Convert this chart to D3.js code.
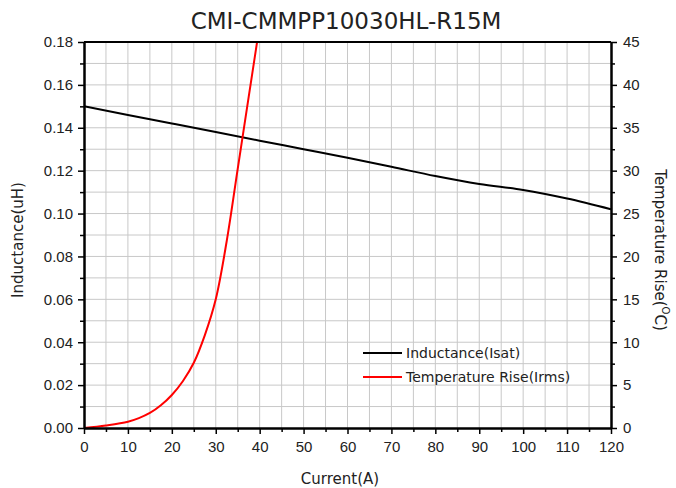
<html>
<head>
<script src="https://d3js.org/d3.v7.min.js"></script>
<style>
  body { margin: 0; background: #fff; }
  text { fill: #222; }
</style>
</head>
<body>
<svg id="chart" width="676" height="488"></svg>
<script>
// data
var current = [0, 10, 20, 30, 40, 50, 60, 70, 80, 90, 100, 110, 120];
var inductance = [0.150, 0.146, 0.142, 0.138, 0.134, 0.130, 0.126, 0.1218, 0.1175, 0.1138, 0.111, 0.107, 0.102];

var tempCurrent = [0, 5, 10, 12.5, 15, 17.5, 20, 22.5, 25, 27.5, 30, 32.5, 35, 37.5, 39.5];
var tempRise = [0, 0.3, 0.73, 1.15, 1.75, 2.65, 3.85, 5.45, 7.6, 10.8, 15, 21.8, 30.2, 38.6, 45.3];

var xTicks = [0, 10, 20, 30, 40, 50, 60, 70, 80, 90, 100, 110, 120];
var leftTicks = [0, 0.02, 0.04, 0.06, 0.08, 0.10, 0.12, 0.14, 0.16, 0.18];
var rightTicks = [0, 5, 10, 15, 20, 25, 30, 35, 40, 45];

var labelFont = "'DejaVu Sans', sans-serif";
var tickFont = "'Liberation Sans', Arial, sans-serif";

var pL = 84, pR = 611, pT = 42, pB = 428;
var svg = d3.select("#chart");

var x = d3.scaleLinear().domain([0, 120]).range([pL, pR]);
var yL = d3.scaleLinear().domain([0, 0.18]).range([pB, pT]);
var yR = d3.scaleLinear().domain([0, 45]).range([pB, pT]);

// grid
var grid = svg.append("g").attr("stroke", "#c8c8c8").attr("stroke-width", 1);
grid.selectAll("line.v").data(d3.range(5, 120, 5)).enter().append("line").attr("class", "v")
  .attr("x1", d => x(d)).attr("x2", d => x(d)).attr("y1", pT).attr("y2", pB);
grid.selectAll("line.h").data(d3.range(1, 18)).enter().append("line").attr("class", "h")
  .attr("y1", d => yL(d / 100)).attr("y2", d => yL(d / 100)).attr("x1", pL).attr("x2", pR);

svg.append("clipPath").attr("id", "clip").append("rect")
  .attr("x", pL).attr("y", pT).attr("width", pR - pL).attr("height", pB - pT);

// curves
var lineL = d3.line().x((d, i) => x(current[i])).y(d => yL(d)).curve(d3.curveMonotoneX);
svg.append("path").attr("d", lineL(inductance))
  .attr("fill", "none").attr("stroke", "#000").attr("stroke-width", 2).attr("clip-path", "url(#clip)");

var lineT = d3.line().x((d, i) => x(tempCurrent[i])).y(d => yR(d)).curve(d3.curveCatmullRom.alpha(0.5));
svg.append("path").attr("d", lineT(tempRise))
  .attr("fill", "none").attr("stroke", "#f00").attr("stroke-width", 2).attr("clip-path", "url(#clip)");

// axes
function styleAxis(g) {
  g.select(".domain").attr("stroke", "#000").attr("stroke-width", 2);
  g.selectAll(".tick line").attr("stroke", "#000").attr("stroke-width", 1.5);
  g.selectAll("text").attr("font-family", tickFont).attr("font-size", "15px").attr("fill", "#222");
}

svg.append("g").attr("transform", "translate(0," + pB + ")")
  .call(d3.axisBottom(x).tickValues(d3.range(5, 120, 10)).tickSize(4).tickSizeOuter(0).tickFormat(""))
  .call(styleAxis);
svg.append("g").attr("transform", "translate(0," + pB + ")")
  .call(d3.axisBottom(x).tickValues(xTicks).tickSize(6).tickSizeOuter(0).tickPadding(7))
  .call(styleAxis);

svg.append("g").attr("transform", "translate(" + pL + ",0)")
  .call(d3.axisLeft(yL).tickValues(d3.range(1, 18, 2).map(d => d / 100)).tickSize(4).tickSizeOuter(0).tickFormat(""))
  .call(styleAxis);
svg.append("g").attr("transform", "translate(" + pL + ",0)")
  .call(d3.axisLeft(yL).tickValues(leftTicks).tickSize(6).tickSizeOuter(0).tickFormat(d3.format(".2f")).tickPadding(5))
  .call(styleAxis);

svg.append("g").attr("transform", "translate(" + pR + ",0)")
  .call(d3.axisRight(yR).tickValues(d3.range(2.5, 45, 5)).tickSize(4).tickSizeOuter(0).tickFormat(""))
  .call(styleAxis);
svg.append("g").attr("transform", "translate(" + pR + ",0)")
  .call(d3.axisRight(yR).tickValues(rightTicks).tickSize(6).tickSizeOuter(0).tickPadding(6))
  .call(styleAxis);

svg.append("line").attr("x1", pL).attr("x2", pR).attr("y1", pT).attr("y2", pT)
  .attr("stroke", "#000").attr("stroke-width", 2);

// titles
svg.append("text").attr("x", 346).attr("y", 29).attr("text-anchor", "middle")
  .attr("font-family", labelFont).attr("font-size", "23px").text("CMI-CMMPP10030HL-R15M");

svg.append("text").attr("x", 340).attr("y", 484).attr("text-anchor", "middle")
  .attr("font-family", labelFont).attr("font-size", "15px").text("Current(A)");

svg.append("text").attr("transform", "translate(23,240) rotate(-90)").attr("text-anchor", "middle")
  .attr("font-family", labelFont).attr("font-size", "15px").text("Inductance(uH)");

var rt = svg.append("text").attr("transform", "translate(655,250) rotate(90)").attr("text-anchor", "middle")
  .attr("font-family", labelFont).attr("font-size", "15px");
rt.append("tspan").text("Temperature Rise(");
rt.append("tspan").attr("font-size", "10px").attr("dy", -7).text("O");
rt.append("tspan").attr("dy", 7).text("C)");

// legend
var legendNames = ["Inductance(Isat)", "Temperature Rise(Irms)"];
var legendColors = ["#000", "#f00"];
var lg = svg.append("g").selectAll("g").data(legendNames).enter().append("g")
  .attr("transform", (d, i) => "translate(363," + (353 + i * 24) + ")");
lg.append("line").attr("x1", 0).attr("x2", 39).attr("stroke", (d, i) => legendColors[i]).attr("stroke-width", 2);
lg.append("text").attr("x", 43).attr("y", 5).attr("font-family", labelFont).attr("font-size", "14px").text(d => d);
</script>
</body>
</html>
